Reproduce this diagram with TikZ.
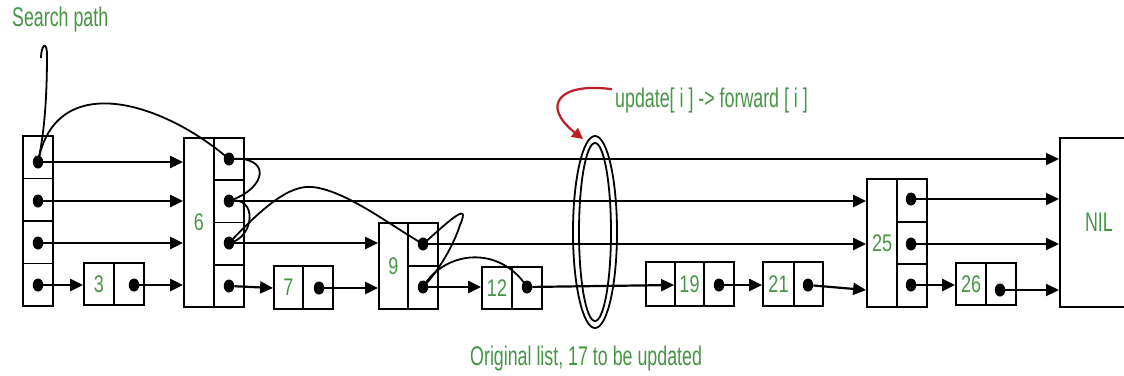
\documentclass[tikz,border=0pt]{standalone}
\usepackage{fontspec}
\setmainfont{Liberation Sans}
\newfontfamily\lblfont[FakeStretch=0.66]{Liberation Sans}
\newfontfamily\numfont[FakeStretch=0.75]{Liberation Sans}
\usetikzlibrary{arrows.meta,shapes.geometric,calc}
\definecolor{lblgreen}{RGB}{70,150,70}
\definecolor{arrred}{RGB}{190,30,40}
\begin{document}
\begin{tikzpicture}[x=1pt,y=-1pt,
  cell/.style={draw, line width=1.8pt, inner sep=0pt, font=\numfont\fontsize{24}{24}\selectfont, text=lblgreen},
  dot/.style={ellipse, fill=black, inner sep=0pt, minimum width=10.5pt, minimum height=13pt},
  link/.style={line width=2.2pt, -{Triangle[length=13pt,width=12pt]}},
  curvy/.style={line width=1.8pt},
  lbl/.style={font=\lblfont\fontsize{27}{27}\selectfont, text=lblgreen, inner sep=0pt},
  ring/.style={draw, ellipse, line width=1.8pt, inner sep=0pt}
]
\fill[white] (0,0) rectangle (1124,375);
\useasboundingbox (0,0) rectangle (1124,375);

% header column
\node[cell, minimum width=30pt, minimum height=42.5pt] (h4) at (38,157.25) {};
\node[cell, minimum width=30pt, minimum height=42.5pt] (h3) at (38,199.75) {};
\node[cell, minimum width=30pt, minimum height=42.5pt] (h2) at (38,242.25) {};
\node[cell, minimum width=30pt, minimum height=42.5pt] (h1) at (38,284.75) {};
% node 3
\node[cell, minimum width=30pt, minimum height=42pt] (k3) at (99,284) {3};
\node[cell, minimum width=30pt, minimum height=42pt] (p3) at (129,284) {};
% node 6
\node[cell, minimum width=30pt, minimum height=169pt] (k6) at (199,222.5) {6};
\node[cell, minimum width=30pt, minimum height=42.25pt] (p6d) at (229,159.1) {};
\node[cell, minimum width=30pt, minimum height=42.25pt] (p6c) at (229,201.4) {};
\node[cell, minimum width=30pt, minimum height=42.25pt] (p6b) at (229,243.6) {};
\node[cell, minimum width=30pt, minimum height=42.25pt] (p6a) at (229,285.9) {};
% node 7
\node[cell, minimum width=29pt, minimum height=43pt] (k7) at (288.5,287.5) {7};
\node[cell, minimum width=30pt, minimum height=43pt] (p7) at (318,287.5) {};
% node 9
\node[cell, minimum width=29pt, minimum height=86pt] (k9) at (393.5,266) {9};
\node[cell, minimum width=30pt, minimum height=43pt] (p9b) at (423,244.5) {};
\node[cell, minimum width=30pt, minimum height=43pt] (p9a) at (423,287.5) {};
% node 12
\node[cell, minimum width=30pt, minimum height=42pt] (k12) at (497,288) {12};
\node[cell, minimum width=30pt, minimum height=42pt] (p12) at (527,288) {};
% node 19
\node[cell, minimum width=29pt, minimum height=44pt] (e19) at (660.5,284) {};
\node[cell, minimum width=29pt, minimum height=44pt] (k19) at (689.5,284) {19};
\node[cell, minimum width=30pt, minimum height=44pt] (p19) at (719,284) {};
% node 21
\node[cell, minimum width=31pt, minimum height=44pt] (k21) at (778.5,284) {21};
\node[cell, minimum width=29pt, minimum height=44pt] (p21) at (808.5,284) {};
% node 25
\node[cell, minimum width=30pt, minimum height=128pt] (k25) at (882,243) {25};
\node[cell, minimum width=30pt, minimum height=42.67pt] (p25c) at (912,200.3) {};
\node[cell, minimum width=30pt, minimum height=42.67pt] (p25b) at (912,243) {};
\node[cell, minimum width=30pt, minimum height=42.67pt] (p25a) at (912,285.7) {};
% node 26
\node[cell, minimum width=30pt, minimum height=42pt] (k26) at (971,284) {26};
\node[cell, minimum width=30pt, minimum height=42pt] (p26) at (1001,284) {};
% NIL
\node[cell, font=\lblfont\fontsize{27}{27}\selectfont, minimum width=78pt, minimum height=169pt, anchor=west] (nil) at (1059,222.5) {NIL};

% dots
\node[dot] (hd4) at (38,162) {};
\node[dot] (hd3) at (38,201) {};
\node[dot] (hd2) at (38,243) {};
\node[dot] (hd1) at (38,285) {};
\node[dot] (d3) at (134,285) {};
\node[dot] (d6d) at (229,159) {};
\node[dot] (d6c) at (229,201) {};
\node[dot] (d6b) at (229,243) {};
\node[dot] (d6a) at (229,286) {};
\node[dot] (d7) at (319,288) {};
\node[dot] (d9b) at (423,244) {};
\node[dot] (d9a) at (423,287) {};
\node[dot] (d12) at (527,287) {};
\node[dot] (d19) at (719,285) {};
\node[dot] (d21) at (808,285) {};
\node[dot] (d25c) at (911,199) {};
\node[dot] (d25b) at (911,244) {};
\node[dot] (d25a) at (911,285) {};
\node[dot] (d26) at (1000,290) {};

% forward links
\draw[link] (hd4) -- (hd4 -| k6.west);
\draw[link] (hd3) -- (hd3 -| k6.west);
\draw[link] (hd2) -- (hd2 -| k6.west);
\draw[link] (hd1) -- (hd1 -| k3.west);
\draw[link] (d3) -- (d3 -| k6.west);
\draw[link] (d6d) -- (d6d -| nil.west);
\draw[link] (d6c) -- (d6c -| k25.west);
\draw[link] (d6b) -- (d6b -| k9.west);
\draw[link] (d6a) -- ($(d6a -| k7.west)+(0,2)$);
\draw[link] (d7) -- (d7 -| k9.west);
\draw[link] (d9b) -- (d9b -| k25.west);
\draw[link] (d9a) -- (d9a -| k12.west);
\draw[link] (d12) -- ($(d12 -| k19.west)+(0,-2)$);
\draw[link] (d19) -- (d19 -| k21.west);
\draw[link] (d21) -- ($(d21 -| k25.west)+(0,5)$);
\draw[link] (d25c) -- (d25c -| nil.west);
\draw[link] (d25b) -- (d25b -| nil.west);
\draw[link] (d25a) -- (d25a -| k26.west);
\draw[link] (d26) -- (d26 -| nil.west);

% labels
\node[lbl, anchor=base west] (sp) at (12,26) {Search path};
\node[lbl, anchor=base west] (upd) at (615,107) {update[ i ] -> forward [ i ]};
\node[lbl, anchor=base west] (orig) at (470,365) {Original list, 17 to be updated};

% search path
\coordinate (spstart) at (41,58);
\draw[curvy] (spstart) .. controls (41,45) and (47,40) .. (47,55)
  .. controls (47,100) and (44,135) .. (hd4.center);
\draw[curvy] (hd4.center) .. controls (55,70) and (160,100) .. (d6d.center);
\draw[curvy] (d6d.center) .. controls (272,155) and (268,188) .. (d6c.center);
\draw[curvy] (d6c.center) .. controls (258,195) and (255,238) .. (d6b.center);
\draw[curvy] (d6b.center) .. controls (265,205) and (290,185) .. (312,187)
  .. controls (345,190) and (390,225) .. (d9b.center);
\draw[curvy] (d9b.center) .. controls (445,225) and (472,198) .. (460,225)
  .. controls (452,250) and (435,275) .. (d9a.center);
\draw[curvy] (d9a.center) .. controls (445,250) and (500,245) .. (d12.center);

% ring
\node[ring, minimum width=44pt, minimum height=192pt] (ov) at (595,232) {};
\node[ring, minimum width=32pt, minimum height=178pt] (ovi) at (595,232) {};

% red pointer
\draw[arrred, line width=2.2pt, -{Triangle[length=11pt,width=11pt]}]
  ([xshift=-3pt,yshift=-2pt]upd.north west) .. controls (560,82) and (540,105) .. ([xshift=-12pt,yshift=-4pt]ov.north);
\end{tikzpicture}
\end{document}
